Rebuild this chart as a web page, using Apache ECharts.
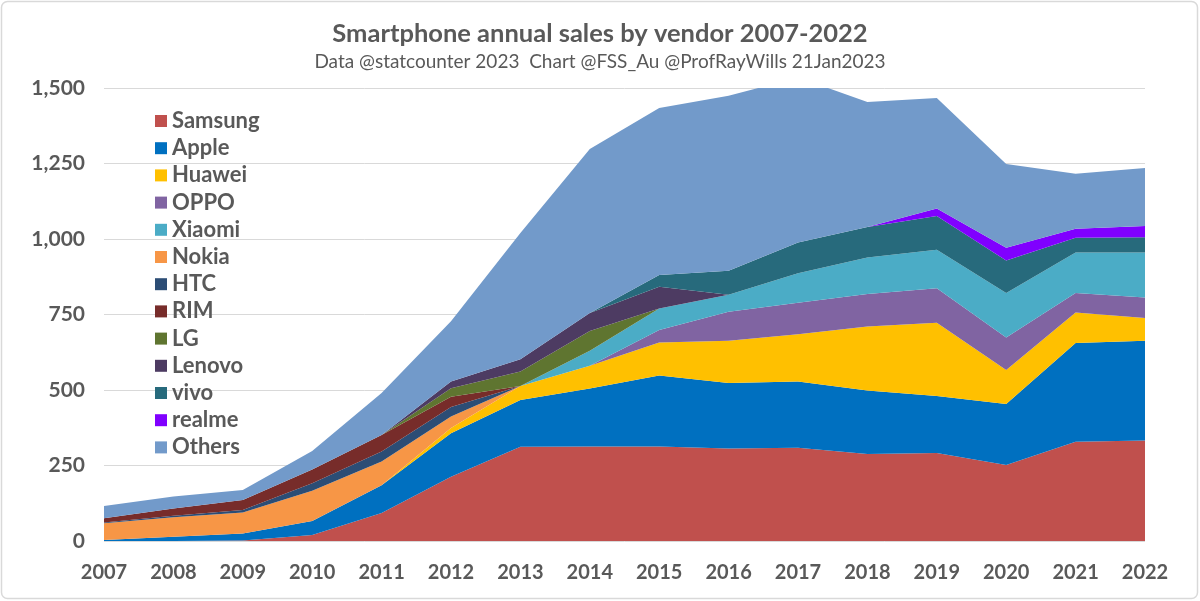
<!DOCTYPE html>
<html>
<head>
<meta charset="utf-8">
<script src="https://cdn.jsdelivr.net/npm/echarts@6/dist/echarts.min.js"></script>
<style>
html,body{margin:0;padding:0;background:#fff;}
#chart{width:1200px;height:601px;}
</style>
</head>
<body>
<div id="chart"></div>
<script>
const years = ['2007','2008','2009','2010','2011','2012','2013','2014','2015','2016','2017','2018','2019','2020','2021','2022'];
const yTicks = [0, 250, 500, 750, 1000, 1250, 1500];

const samsung = [0, 0, 2, 20, 93, 213, 312, 313, 313, 306, 309, 288, 291, 252, 329, 333];
const apple   = [3, 14, 23, 46, 92, 144, 155, 192, 235, 217, 219, 210, 189, 202, 327, 330];
const huawei  = [0, 0, 0, 0, 0, 17, 46, 75, 109, 140, 157, 212, 243, 112, 101, 75];
const oppo    = [0, 0, 0, 0, 0, 0, 0, 0, 42, 96, 104, 108, 114, 108, 64, 68];
const xiaomi  = [0, 0, 0, 0, 0, 0, 0, 50, 71, 56, 98, 121, 127, 147, 134, 149];
const nokia   = [56, 65, 69, 100, 78, 38, 0, 0, 0, 0, 0, 0, 0, 0, 0, 0];
const htc     = [2, 5, 9, 25, 33, 32, 0, 0, 0, 0, 0, 0, 0, 0, 0, 0];
const rim     = [14, 24, 33, 46, 55, 34, 0, 0, 0, 0, 0, 0, 0, 0, 0, 0];
const lg      = [0, 0, 0, 0, 0, 28, 48, 65, 0, 0, 0, 0, 0, 0, 0, 0];
const lenovo  = [0, 0, 0, 0, 0, 22, 41, 60, 72, 0, 0, 0, 0, 0, 0, 0];
const vivo    = [0, 0, 0, 0, 0, 0, 0, 0, 39, 80, 101, 101, 112, 108, 49, 51];
const realme  = [0, 0, 0, 0, 0, 0, 0, 0, 0, 0, 0, 0, 25, 42, 30, 37];
const others  = [41, 39, 33, 61, 139, 200, 418, 543, 553, 579, 547, 414, 366, 277, 182, 192];

const seriesDefs = [
  ['Samsung', samsung, '#C0504D'],
  ['Apple', apple, '#0070C0'],
  ['Huawei', huawei, '#FFC000'],
  ['OPPO', oppo, '#8064A2'],
  ['Xiaomi', xiaomi, '#4BACC6'],
  ['Nokia', nokia, '#F79646'],
  ['HTC', htc, '#2C4D75'],
  ['RIM', rim, '#772C2A'],
  ['LG', lg, '#5F7530'],
  ['Lenovo', lenovo, '#4D3B62'],
  ['vivo', vivo, '#276A7C'],
  ['realme', realme, '#8000FF'],
  ['Others', others, '#729ACA']
];

const FONT = 'Lato, "Noto Sans", sans-serif';
const chart = echarts.init(document.getElementById('chart'), null, {renderer: 'canvas'});
chart.setOption({
  animation: false,
  backgroundColor: '#ffffff',
  textStyle: {fontFamily: FONT},
  graphic: [{
    type: 'rect', shape: {x: 1.5, y: 1.5, width: 1196, height: 597, r: 6},
    style: {fill: 'none', stroke: '#D9D9D9', lineWidth: 1.5}, silent: true, z: -1
  }],
  title: {
    text: 'Smartphone annual sales by vendor 2007-2022',
    subtext: 'Data @statcounter 2023  Chart @FSS_Au @ProfRayWills 21Jan2023',
    left: 'center', top: 16, itemGap: 5,
    textStyle: {fontFamily: FONT, fontSize: 25.5, fontWeight: 'bold', color: '#595959'},
    subtextStyle: {fontFamily: FONT, fontSize: 19, color: '#595959'}
  },
  legend: {
    orient: 'vertical', left: 150, top: 105,
    itemWidth: 12, itemHeight: 12, itemGap: 5.2, icon: 'rect',
    textStyle: {fontFamily: FONT, fontSize: 22, fontWeight: 'bold', color: '#595959', lineHeight: 22},
    data: seriesDefs.map(d => d[0])
  },
  grid: {left: 104, right: 55, top: 88, bottom: 60, containLabel: false},
  xAxis: {
    type: 'category', data: years, boundaryGap: false,
    axisLine: {show: false}, axisTick: {show: false},
    axisLabel: {fontFamily: FONT, fontSize: 20, fontWeight: 'bold', color: '#595959', margin: 22}
  },
  yAxis: {
    type: 'value', min: yTicks[0], max: yTicks[yTicks.length - 1], interval: yTicks[1] - yTicks[0],
    axisLine: {show: false}, axisTick: {show: false},
    splitLine: {lineStyle: {color: '#D9D9D9', width: 1}},
    axisLabel: {fontFamily: FONT, fontSize: 21, fontWeight: 'bold', color: '#595959', margin: 19,
      formatter: v => v.toLocaleString('en-US')}
  },
  series: seriesDefs.map(d => ({
    name: d[0], type: 'line', stack: 'total', data: d[1],
    symbol: 'none', lineStyle: {width: 0}, color: d[2],
    areaStyle: {color: d[2], opacity: 1}, clip: true,
    emphasis: {disabled: true}
  }))
});
</script>
</body>
</html>
